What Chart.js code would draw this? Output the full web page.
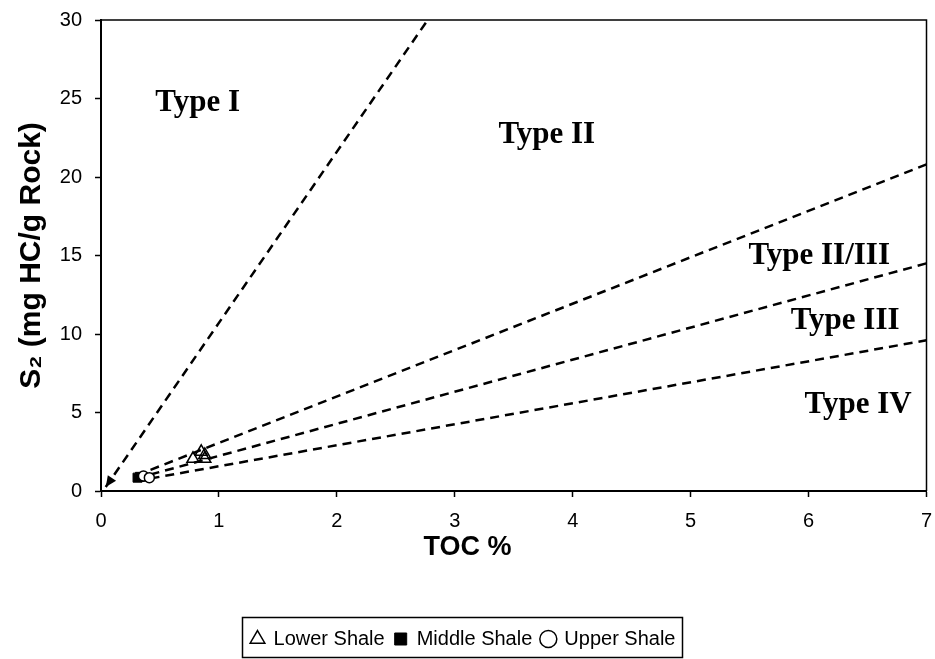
<!DOCTYPE html>
<html>
<head>
<meta charset="utf-8">
<script src="https://cdn.jsdelivr.net/npm/chart.js@4.4.1/dist/chart.umd.min.js"></script>
<style>
  html, body { margin: 0; padding: 0; background: #ffffff; }
  canvas { display: block; }
</style>
</head>
<body>
<canvas id="chart" width="935" height="659"></canvas>
<script>
// Rock-Eval pyrolysis results: TOC (wt %) against S2 (mg HC/g rock)
const lowerShaleTOC = [0.78, 0.85, 0.88, 0.88];
const lowerShaleS2  = [2.05, 2.50, 2.30, 2.05];
const middleShaleTOC = [0.31, 0.33];
const middleShaleS2  = [0.85, 0.90];
const upperShaleTOC = [0.36, 0.41];
const upperShaleS2  = [0.95, 0.85];

// Kerogen type boundaries: [start, end] in TOC and S2
const boundaryTOC = [[0.04, 2.77], [0.42, 7.0], [0.42, 7.0], [0.42, 7.0]];
const boundaryS2  = [[0.25, 30.0], [1.35, 20.8], [1.05, 14.5], [0.80, 9.6]];

// Kerogen type fields and where their names sit (TOC, S2)
const typeNames = ['Type I', 'Type II', 'Type II/III', 'Type III', 'Type IV'];
const typeNameTOC = [0.82, 3.78, 6.09, 6.31, 6.42];
const typeNameS2  = [24.7, 22.7, 15.0, 10.8, 5.5];

// Axis ranges and tick steps
const xRange = [0, 7];
const yRange = [0, 30];
const xStep = 1;
const yStep = 5;

const SANS = '"Liberation Sans", Arial, sans-serif';
const SERIF = '"Liberation Serif", "Times New Roman", serif';

const toPoints = (xs, ys) => xs.map((x, i) => ({ x: x, y: ys[i] }));

const boundaryDatasets = boundaryTOC.map((xs, i) => ({
  type: 'line',
  label: 'boundary' + i,
  data: toPoints(xs, boundaryS2[i]),
  borderColor: '#000000',
  borderWidth: 2.5,
  borderDash: [9, 6],
  pointRadius: 0,
  fill: false,
  order: 2
}));

// Frame on the top and right sides of the plot area
const framePlugin = {
  id: 'frame',
  beforeDatasetsDraw(chart) {
    const { ctx, chartArea: a } = chart;
    ctx.save();
    ctx.strokeStyle = '#000000';
    ctx.lineWidth = 1.5;
    ctx.beginPath();
    ctx.moveTo(a.left, a.top);
    ctx.lineTo(a.right, a.top);
    ctx.lineTo(a.right, a.bottom);
    ctx.stroke();
    ctx.restore();
  }
};

// Arrow head at the origin end of the Type I boundary
const arrowPlugin = {
  id: 'arrow',
  afterDatasetsDraw(chart) {
    const meta = chart.getDatasetMeta(0);
    const p0 = meta.data[0], p1 = meta.data[1];
    if (!p0 || !p1) return;
    const ang = Math.atan2(p0.y - p1.y, p0.x - p1.x);
    const len = 11, half = 5;
    const { ctx } = chart;
    ctx.save();
    ctx.fillStyle = '#000000';
    ctx.beginPath();
    ctx.moveTo(p0.x, p0.y);
    ctx.lineTo(p0.x - len * Math.cos(ang) + half * Math.sin(ang), p0.y - len * Math.sin(ang) - half * Math.cos(ang));
    ctx.lineTo(p0.x - len * Math.cos(ang) - half * Math.sin(ang), p0.y - len * Math.sin(ang) + half * Math.cos(ang));
    ctx.closePath();
    ctx.fill();
    ctx.restore();
  }
};

// Names of the kerogen type fields
const typeNamePlugin = {
  id: 'typeNames',
  afterDatasetsDraw(chart) {
    const { ctx, scales: { x, y } } = chart;
    ctx.save();
    ctx.fillStyle = '#000000';
    ctx.font = 'bold 31px ' + SERIF;
    ctx.textAlign = 'center';
    ctx.textBaseline = 'middle';
    typeNames.forEach((name, i) => {
      ctx.fillText(name, x.getPixelForValue(typeNameTOC[i]), y.getPixelForValue(typeNameS2[i]));
    });
    ctx.restore();
  }
};

// Horizontal axis title, centred on the whole chart
const xTitlePlugin = {
  id: 'xTitle',
  afterDraw(chart) {
    const { ctx } = chart;
    ctx.save();
    ctx.fillStyle = '#000000';
    ctx.font = 'bold 27px ' + SANS;
    ctx.textAlign = 'center';
    ctx.textBaseline = 'middle';
    ctx.fillText('TOC %', chart.width / 2, chart.chartArea.bottom + 57);
    ctx.restore();
  }
};

// Box around the legend entries
const legendBoxPlugin = {
  id: 'legendBox',
  afterDraw(chart) {
    const lg = chart.legend;
    if (!lg || !lg.legendHitBoxes || !lg.legendHitBoxes.length) return;
    const boxes = lg.legendHitBoxes;
    const left = Math.min(...boxes.map(b => b.left)) - 10;
    const right = Math.max(...boxes.map(b => b.left + b.width)) + 6;
    const { ctx } = chart;
    ctx.save();
    ctx.strokeStyle = '#000000';
    ctx.lineWidth = 1.5;
    ctx.strokeRect(Math.round(left) + 0.5, lg.top - 1.5, Math.round(right - left), lg.height);
    ctx.restore();
  }
};

new Chart(document.getElementById('chart'), {
  type: 'scatter',
  data: {
    datasets: [
      ...boundaryDatasets,
      {
        label: 'Lower Shale',
        data: toPoints(lowerShaleTOC, lowerShaleS2),
        pointStyle: 'triangle',
        pointRadius: 7,
        pointBorderWidth: 1.5,
        pointBackgroundColor: 'rgba(255,255,255,0)',
        pointBorderColor: '#000000',
        backgroundColor: 'rgba(255,255,255,0)',
        borderColor: '#000000',
        order: 1
      },
      {
        label: 'Middle Shale',
        data: toPoints(middleShaleTOC, middleShaleS2),
        pointStyle: 'rect',
        pointRadius: 6.4,
        pointBorderWidth: 1,
        pointBackgroundColor: '#000000',
        pointBorderColor: '#000000',
        backgroundColor: '#000000',
        borderColor: '#000000',
        order: 1
      },
      {
        label: 'Upper Shale',
        data: toPoints(upperShaleTOC, upperShaleS2),
        pointStyle: 'circle',
        pointRadius: 5,
        pointBorderWidth: 1.5,
        pointBackgroundColor: '#ffffff',
        pointBorderColor: '#000000',
        backgroundColor: '#ffffff',
        borderColor: '#000000',
        order: 0
      }
    ]
  },
  options: {
    responsive: false,
    animation: false,
    devicePixelRatio: 1,
    layout: { padding: { left: 0, right: 8, top: 20, bottom: 0 } },
    plugins: {
      tooltip: { enabled: false },
      legend: {
        display: true,
        position: 'bottom',
        labels: {
          filter: item => !String(item.text).startsWith('boundary'),
          sort: (a, b) => a.datasetIndex - b.datasetIndex,
          usePointStyle: true,
          boxWidth: 12,
          boxHeight: 12,
          padding: 10,
          color: '#000000',
          font: { family: SANS, size: 20 }
        }
      }
    },
    scales: {
      x: {
        type: 'linear',
        min: xRange[0],
        max: xRange[1],
        afterFit(scale) { scale.height = 128; scale.paddingLeft = 0; scale.paddingRight = 0; },
        ticks: {
          stepSize: xStep,
          color: '#000000',
          padding: 12,
          font: { family: SANS, size: 20 }
        },
        grid: { drawOnChartArea: false, drawTicks: true, tickLength: 6, tickColor: '#000000', tickWidth: 1.5 },
        border: { display: true, color: '#000000', width: 2 },
        title: { display: false }
      },
      y: {
        type: 'linear',
        min: yRange[0],
        max: yRange[1],
        afterFit(scale) { scale.width = 101; scale.paddingTop = 0; scale.paddingBottom = 0; },
        ticks: {
          stepSize: yStep,
          color: '#000000',
          padding: 13,
          font: { family: SANS, size: 20 }
        },
        grid: { drawOnChartArea: false, drawTicks: true, tickLength: 6, tickColor: '#000000', tickWidth: 1.5 },
        border: { display: true, color: '#000000', width: 2 },
        title: {
          display: true,
          text: 'S\u2082 (mg HC/g Rock)',
          color: '#000000',
          font: { family: SANS, size: 30, weight: 'bold' },
          padding: { top: 14, bottom: 0 }
        }
      }
    }
  },
  plugins: [framePlugin, arrowPlugin, typeNamePlugin, xTitlePlugin, legendBoxPlugin]
});
</script>
</body>
</html>
